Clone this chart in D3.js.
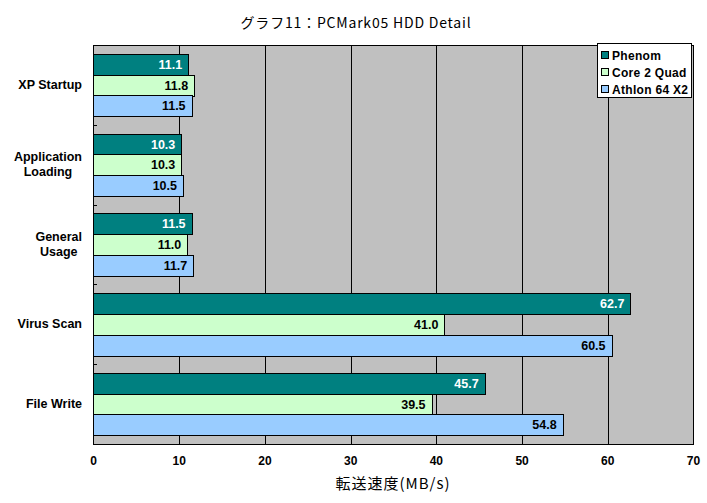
<!DOCTYPE html>
<html>
<head>
<meta charset="utf-8">
<script src="https://cdn.jsdelivr.net/npm/d3@7"></script>
<style>
  body { margin: 0; background: #fff; }
  svg { display: block; }
  text { font-family: "Liberation Sans", Arial, sans-serif; }
</style>
</head>
<body>
<div id="chart"></div>
<script>
// chart data
var categories = ["XP Startup", "Application\nLoading", "General\nUsage", "Virus Scan", "File Write"];
var series = ["Phenom", "Core 2 Quad", "Athlon 64 X2"];
var phenom = [11.1, 10.3, 11.5, 62.7, 45.7];
var core2 = [11.8, 10.3, 11.0, 41.0, 39.5];
var athlon = [11.5, 10.5, 11.7, 60.5, 54.8];
var xTicks = [0, 10, 20, 30, 40, 50, 60, 70];
var colors = ["#008080", "#ccffcc", "#99ccff"];
var labelColors = ["#ffffff", "#000000", "#000000"];

var width = 707,
    height = 503,
    plotLeft = 93, plotRight = 693,
    plotTop = 45, plotBottom = 444

var svg = d3.select("#chart")
  .append("svg")
    .attr("width", width)
    .attr("height", height)

var values = [phenom, core2, athlon]
var rows = []
categories.forEach(function(c, i) {
  series.forEach(function(s, j) {
    rows.push({cat: c, series: s, si: j, value: values[j][i]})
  })
})

var x = d3.scaleLinear().domain([0, 70]).range([plotLeft, plotRight])

var y = d3.scaleBand()
  .domain(categories)
  .range([plotTop, plotBottom])
  .paddingInner(0.22)
  .paddingOuter(0.11)

var ySub = d3.scaleBand()
  .domain(series)
  .range([0, y.bandwidth()])

// plot background
svg.append("rect")
  .attr("x", plotLeft + 0.5)
  .attr("y", plotTop + 0.5)
  .attr("width", plotRight - plotLeft)
  .attr("height", plotBottom - plotTop)
  .attr("fill", "#c0c0c0")

// vertical grid lines
var grid = svg.append("g")
  .attr("transform", "translate(0.5," + (plotBottom + 0.5) + ")")
  .call(d3.axisBottom(x).tickValues(xTicks.slice(1, -1)).tickSize(-(plotBottom - plotTop)).tickFormat(""))
grid.select(".domain").remove()
grid.selectAll("line").attr("stroke", "#000").attr("shape-rendering", "crispEdges")

// bars
var bars = svg.append("g")
  .selectAll("g")
  .data(rows)
  .enter()
  .append("g")
    .attr("transform", function(d) {
      return "translate(0," + Math.round(y(d.cat) + ySub(d.series)) + ")"
    })

bars.append("rect")
  .attr("x", plotLeft + 0.5)
  .attr("y", 0.5)
  .attr("width", function(d) { return x(d.value) - plotLeft })
  .attr("height", Math.round(ySub.bandwidth()))
  .attr("fill", function(d) { return colors[d.si] })
  .attr("stroke", "#000")
  .attr("shape-rendering", "crispEdges")

bars.append("text")
  .attr("x", function(d) { return x(d.value) - 6 })
  .attr("y", ySub.bandwidth() / 2 + 5)
  .attr("text-anchor", "end")
  .attr("font-size", "12.5px")
  .attr("font-weight", "bold")
  .attr("fill", function(d) { return labelColors[d.si] })
  .text(function(d) { return d.value.toFixed(1) })

// plot border
svg.append("rect")
  .attr("x", plotLeft + 0.5)
  .attr("y", plotTop + 0.5)
  .attr("width", plotRight - plotLeft)
  .attr("height", plotBottom - plotTop)
  .attr("fill", "none")
  .attr("stroke", "#000")
  .attr("shape-rendering", "crispEdges")

// little category ticks on the left axis
var bounds = categories.slice(1).map(function(c) { return y(c) - y.step() * y.paddingInner() / 2 })
svg.append("g")
  .selectAll("line")
  .data(bounds)
  .enter()
  .append("line")
    .attr("x1", plotLeft)
    .attr("x2", plotLeft + 4)
    .attr("y1", function(d) { return Math.round(d) + 0.5 })
    .attr("y2", function(d) { return Math.round(d) + 0.5 })
    .attr("stroke", "#000")

// x tick labels
var xAxis = svg.append("g")
  .attr("transform", "translate(0," + plotBottom + ")")
  .call(d3.axisBottom(x).tickValues(xTicks).tickSize(0).tickPadding(12))
xAxis.select(".domain").remove()
xAxis.selectAll("text")
  .attr("font-family", "'Liberation Sans', Arial, sans-serif")
  .attr("font-size", "12px")
  .attr("font-weight", "bold")
  .attr("fill", "#000")

// category labels
categories.forEach(function(c) {
  var lines = c.split("\n")
  var cy = y(c) + y.bandwidth() / 2
  var t = svg.append("text")
    .attr("font-size", "12.5px")
    .attr("font-weight", "bold")
  lines.forEach(function(line, k) {
    t.append("tspan")
      .attr("y", cy + 4 + (k - (lines.length - 1) / 2) * 15)
      .text(line)
  })
  var maxW = 0
  t.selectAll("tspan").each(function() { maxW = Math.max(maxW, this.getComputedTextLength()) })
  t.attr("text-anchor", "middle")
  t.selectAll("tspan").attr("x", 82 - maxW / 2)
})

// title
svg.append("text")
  .attr("x", 356)
  .attr("y", 28)
  .attr("text-anchor", "middle")
  .attr("font-size", "14px")
  .attr("letter-spacing", "0.8px")
  .style("font-family", "'Noto Sans CJK JP', sans-serif")
  .text("グラフ11：PCMark05 HDD Detail")

// axis title
svg.append("text")
  .attr("x", (plotLeft + plotRight) / 2)
  .attr("y", 489)
  .attr("text-anchor", "middle")
  .attr("font-size", "15px")
  .attr("letter-spacing", "1px")
  .style("font-family", "'Noto Sans CJK JP', sans-serif")
  .text("転送速度(MB/s)")

// legend
var legend = svg.append("g").attr("transform", "translate(597,43)")
legend.append("rect")
  .attr("x", 0.5).attr("y", 0.5)
  .attr("width", 94).attr("height", 54)
  .attr("fill", "#fff")
  .attr("stroke", "#000")
var item = legend.selectAll(".item")
  .data(series)
  .enter()
  .append("g")
    .attr("transform", function(d, i) { return "translate(4," + (8 + i * 17) + ")" })
item.append("rect")
  .attr("x", 0.5).attr("y", 0.5)
  .attr("width", 7).attr("height", 7)
  .attr("fill", function(d, i) { return colors[i] })
  .attr("stroke", "#000")
item.append("text")
  .attr("x", 11)
  .attr("y", 8.5)
  .attr("font-size", "12px")
  .attr("font-weight", "bold")
  .attr("letter-spacing", "0.3px")
  .text(function(d) { return d })
</script>
</body>
</html>
